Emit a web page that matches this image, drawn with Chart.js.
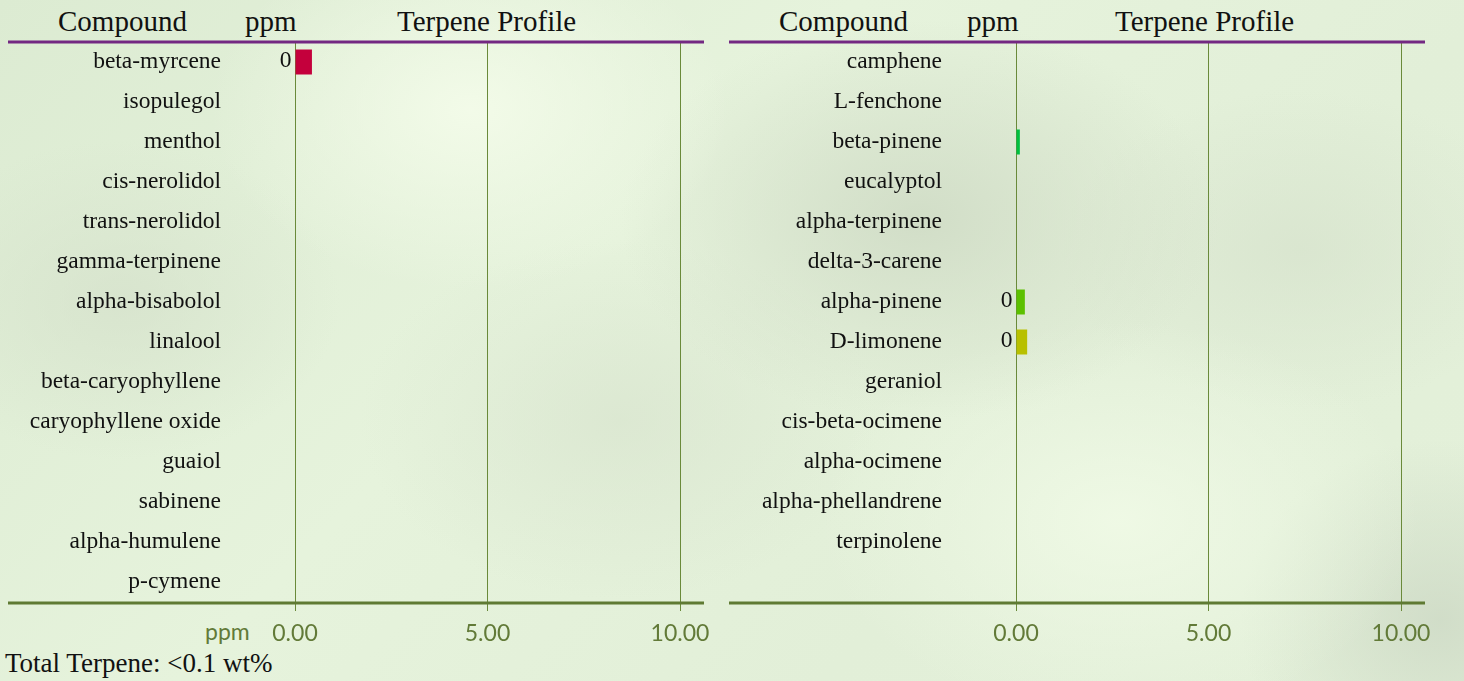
<!DOCTYPE html>
<html>
<head>
<meta charset="utf-8">
<script src="https://cdn.jsdelivr.net/npm/chart.js@4"></script>
<style>
  html, body { margin: 0; padding: 0; }
  body {
    width: 1464px; height: 681px; overflow: hidden; position: relative;
    background:
      radial-gradient(ellipse 260px 180px at 470px 110px, rgba(244,252,234,0.9), rgba(244,252,234,0) 100%),
      radial-gradient(ellipse 300px 200px at 920px 220px, rgba(206,218,196,0.85), rgba(206,218,196,0) 100%),
      radial-gradient(ellipse 220px 160px at 120px 300px, rgba(212,224,202,0.7), rgba(212,224,202,0) 100%),
      radial-gradient(ellipse 300px 200px at 1120px 520px, rgba(240,250,230,0.9), rgba(240,250,230,0) 100%),
      radial-gradient(ellipse 200px 180px at 1440px 620px, rgba(204,216,196,0.8), rgba(204,216,196,0) 100%),
      radial-gradient(ellipse 260px 180px at 620px 420px, rgba(216,228,206,0.7), rgba(216,228,206,0) 100%),
      radial-gradient(ellipse 240px 160px at 1300px 250px, rgba(214,226,204,0.7), rgba(214,226,204,0) 100%),
      linear-gradient(135deg, #dcebd2 0%, #e6f3dc 40%, #e2efd8 70%, #e4f1da 100%);
  }
  .lbl { position: absolute; font-family: "Liberation Serif", "Times New Roman", serif; color: #111; white-space: nowrap; }
  .hdr { font-size: 29px; line-height: 29px; top: 7px; }
  .tot { font-size: 27px; line-height: 27px; top: 650px; left: 5px; }
  .unit { position: absolute; font-family: Lato, sans-serif; font-size: 23px; line-height: 23px; color: #627a38; left: 205px; top: 620px; }
  canvas { position: absolute; top: 0; }
</style>
</head>
<body>
<div class="lbl hdr" style="left:58px">Compound</div>
<div class="lbl hdr" style="left:245px">ppm</div>
<div class="lbl hdr" style="left:397px">Terpene Profile</div>
<div class="lbl hdr" style="left:779px">Compound</div>
<div class="lbl hdr" style="left:967px">ppm</div>
<div class="lbl hdr" style="left:1115px">Terpene Profile</div>
<div class="unit">ppm</div>
<div class="lbl tot">Total Terpene: &lt;0.1 wt%</div>

<canvas id="cLeft" width="720" height="681" style="left:0"></canvas>
<canvas id="cRight" width="720" height="681" style="left:721px"></canvas>

<script>
// ── DATA ─────────────────────────────────────────────────────
const leftCompounds = ['beta-myrcene', 'isopulegol', 'menthol', 'cis-nerolidol', 'trans-nerolidol',
  'gamma-terpinene', 'alpha-bisabolol', 'linalool', 'beta-caryophyllene', 'caryophyllene oxide',
  'guaiol', 'sabinene', 'alpha-humulene', 'p-cymene'];
const leftPpm    = [0.44, 0, 0, 0, 0, 0, 0, 0, 0, 0, 0, 0, 0, 0];
const leftShown  = ['0', '', '', '', '', '', '', '', '', '', '', '', '', ''];
const leftColors = ['#c4003c', '#c4003c', '#c4003c', '#c4003c', '#c4003c', '#c4003c', '#c4003c',
  '#c4003c', '#c4003c', '#c4003c', '#c4003c', '#c4003c', '#c4003c', '#c4003c'];

const rightCompounds = ['camphene', 'L-fenchone', 'beta-pinene', 'eucalyptol', 'alpha-terpinene',
  'delta-3-carene', 'alpha-pinene', 'D-limonene', 'geraniol', 'cis-beta-ocimene', 'alpha-ocimene',
  'alpha-phellandrene', 'terpinolene', ''];
const rightPpm    = [0, 0, 0.1, 0, 0, 0, 0.23, 0.29, 0, 0, 0, 0, 0, 0];
const rightShown  = ['', '', '', '', '', '', '0', '0', '', '', '', '', '', ''];
const rightColors = ['#00c040', '#00c040', '#00c040', '#00c040', '#00c040', '#00c040', '#5cc000',
  '#b8c000', '#00c040', '#00c040', '#00c040', '#00c040', '#00c040', '#00c040'];

const xTicks = [0, 5, 10];

// ── PLUGINS ──────────────────────────────────────────────────
const frameLines = {
  id: 'frameLines',
  afterDraw(chart) {
    const { ctx, chartArea } = chart;
    ctx.save();
    ctx.lineWidth = 3;
    ctx.strokeStyle = '#732882';
    ctx.beginPath(); ctx.moveTo(8, chartArea.top); ctx.lineTo(704, chartArea.top); ctx.stroke();
    ctx.strokeStyle = '#5f7a33';
    ctx.beginPath(); ctx.moveTo(8, chartArea.bottom + 1); ctx.lineTo(704, chartArea.bottom + 1); ctx.stroke();
    ctx.restore();
  }
};

const valueLabels = {
  id: 'valueLabels',
  afterDatasetsDraw(chart) {
    const { ctx } = chart;
    const shown = chart.options.plugins.valueLabels.shown;
    chart.getDatasetMeta(0).data.forEach((bar, i) => {
      if (!shown[i]) return;
      ctx.save();
      ctx.font = '23.5px "Liberation Serif"';
      ctx.fillStyle = '#111';
      ctx.textAlign = 'right';
      ctx.textBaseline = 'middle';
      ctx.fillText(shown[i], bar.base - 4, bar.y - 1);
      ctx.restore();
    });
  }
};

// ── CHART FACTORY ────────────────────────────────────────────
function profileChart(id, labels, values, colors, shown) {
  return new Chart(document.getElementById(id), {
    type: 'bar',
    data: {
      labels,
      datasets: [{
        data: values,
        backgroundColor: colors,
        borderWidth: 0,
        categoryPercentage: 1,
        barPercentage: 0.625,
      }],
    },
    options: {
      indexAxis: 'y',
      responsive: false,
      animation: false,
      devicePixelRatio: 1,
      layout: { padding: { top: 42, right: 40, left: 0, bottom: 0 } },
      plugins: {
        legend: { display: false },
        tooltip: { enabled: false },
        valueLabels: { shown },
      },
      scales: {
        y: {
          grid: { display: false },
          border: { display: false },
          ticks: {
            color: '#111',
            padding: 66,
            font: { family: 'Liberation Serif', size: 23.5 },
          },
          afterFit: s => { s.width = 295; s.paddingTop = 0; s.paddingBottom = 0; },
        },
        x: {
          min: 0,
          max: 10,
          afterBuildTicks: s => { s.ticks = xTicks.map(v => ({ value: v })); },
          ticks: {
            color: '#627a38',
            padding: 9,
            font: { family: 'Lato', size: 23 },
            callback: v => Number(v).toFixed(2),
          },
          grid: { color: '#6a8a3a', lineWidth: 1, tickLength: 9 },
          border: { display: false },
          afterFit: s => { s.height = 79; },
        },
      },
    },
    plugins: [frameLines, valueLabels],
  });
}

profileChart('cLeft', leftCompounds, leftPpm, leftColors, leftShown);
profileChart('cRight', rightCompounds, rightPpm, rightColors, rightShown);
</script>
</body>
</html>
